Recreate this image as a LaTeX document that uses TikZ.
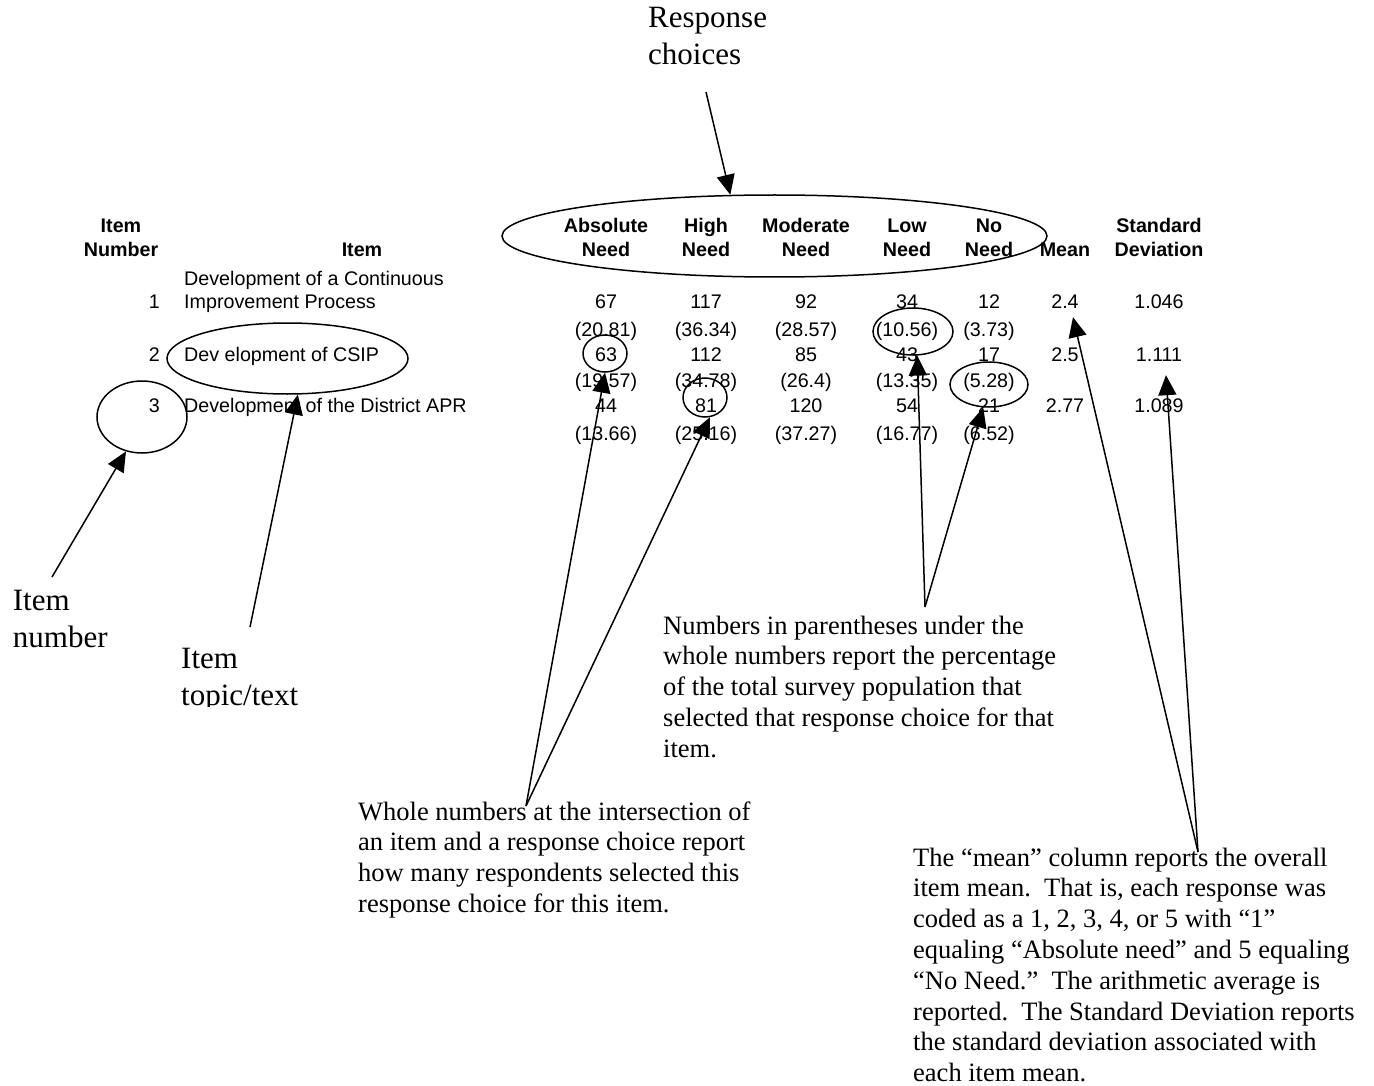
\documentclass[tikz,border=0pt]{standalone}
\usepackage{fontspec}
\setmainfont{Liberation Serif}
\newfontfamily\tabfont{Liberation Sans}
\usetikzlibrary{shapes.geometric,arrows.meta,calc}
\begin{document}
\begin{tikzpicture}[x=1pt,y=-1pt,
  cell/.style={anchor=base, inner sep=0pt, font=\tabfont\fontsize{19.7}{24}\selectfont},
  hdr/.style={anchor=base, inner sep=0pt, font=\tabfont\bfseries\fontsize{19.7}{24}\selectfont},
  ann/.style={anchor=base west, inner sep=0pt, font=\fontsize{26.5}{30.8}\selectfont},
  bigann/.style={anchor=base west, inner sep=0pt, font=\fontsize{31}{37}\selectfont},
  ring/.style={draw, ellipse, line width=1.5pt, inner sep=0pt},
  pointer/.style={line width=1.5pt, -{Triangle[length=20pt,width=18pt]}},
]
\fill[white] (0,0) rectangle (1374,1086);
\useasboundingbox (0,0) rectangle (1374,1086);

% ---------- headers ----------
\node[hdr] (hnum)  at (121,232.7) {\begin{tabular}[t]{@{}c@{}}Item\\Number\end{tabular}};
\node[hdr] (hitem) at (362,256.7) {Item};
\node[hdr] (habs)  at (606,232.7) {\begin{tabular}[t]{@{}c@{}}Absolute\\Need\end{tabular}};
\node[hdr] (hhigh) at (706,232.7) {\begin{tabular}[t]{@{}c@{}}High\\Need\end{tabular}};
\node[hdr] (hmod)  at (806,232.7) {\begin{tabular}[t]{@{}c@{}}Moderate\\Need\end{tabular}};
\node[hdr] (hlow)  at (907,232.7) {\begin{tabular}[t]{@{}c@{}}Low\\Need\end{tabular}};
\node[hdr] (hno)   at (989,232.7) {\begin{tabular}[t]{@{}c@{}}No\\Need\end{tabular}};
\node[hdr] (hmean) at (1065,256.7) {Mean};
\node[hdr] (hsd)   at (1159,232.7) {\begin{tabular}[t]{@{}c@{}}Standard\\Deviation\end{tabular}};

% ---------- row 1 ----------
\node[cell, anchor=base east] (n1) at (160,308.3) {1};
\node[cell, anchor=base west, font=\tabfont\fontsize{19.7}{23.3}\selectfont] (it1) at (184,285)
  {\begin{tabular}[t]{@{}l@{}}Development of a Continuous\\Improvement Process\end{tabular}};
\node[cell] (a1) at (606,308.3) {67};
\node[cell] (b1) at (706,308.3) {117};
\node[cell] (c1) at (806,308.3) {92};
\node[cell] (d1) at (907,308.3) {34};
\node[cell] (e1) at (989,308.3) {12};
\node[cell] (m1) at (1065,308.3) {2.4};
\node[cell] (s1) at (1159,308.3) {1.046};
\node[cell] (pa1) at (606,336.7) {(20.81)};
\node[cell] (pb1) at (706,336.7) {(36.34)};
\node[cell] (pc1) at (806,336.7) {(28.57)};
\node[cell] (pd1) at (907,336.7) {(10.56)};
\node[cell] (pe1) at (989,336.7) {(3.73)};

% ---------- row 2 ----------
\node[cell, anchor=base east] (n2) at (160,361.7) {2};
\node[cell, anchor=base west] (it2) at (184,361.7) {Dev elopment of CSIP};
\node[cell] (a2) at (606,361.7) {63};
\node[cell] (b2) at (706,361.7) {112};
\node[cell] (c2) at (806,361.7) {85};
\node[cell] (d2) at (907,361.7) {43};
\node[cell] (e2) at (989,361.7) {17};
\node[cell] (m2) at (1065,361.7) {2.5};
\node[cell] (s2) at (1159,361.7) {1.111};
\node[cell] (pa2) at (606,387.3) {(19.57)};
\node[cell] (pb2) at (706,387.3) {(34.78)};
\node[cell] (pc2) at (806,387.3) {(26.4)};
\node[cell] (pd2) at (907,387.3) {(13.35)};
\node[cell] (pe2) at (989,387.3) {(5.28)};

% ---------- row 3 ----------
\node[cell, anchor=base east] (n3) at (160,412.7) {3};
\node[cell, anchor=base west] (it3) at (184,412.7) {Development of the District APR};
\node[cell] (a3) at (606,412.7) {44};
\node[cell] (b3) at (706,412.7) {81};
\node[cell] (c3) at (806,412.7) {120};
\node[cell] (d3) at (907,412.7) {54};
\node[cell] (e3) at (989,412.7) {21};
\node[cell] (m3) at (1065,412.7) {2.77};
\node[cell] (s3) at (1159,412.7) {1.089};
\node[cell] (pa3) at (606,440) {(13.66)};
\node[cell] (pb3) at (706,440) {(25.16)};
\node[cell] (pc3) at (806,440) {(37.27)};
\node[cell] (pd3) at (907,440) {(16.77)};
\node[cell] (pe3) at (989,440) {(6.52)};

% ---------- rings ----------
\node[ring, minimum width=545pt, minimum height=82pt] (bigell) at (774.5,236) {};
\node[ring, minimum width=241pt, minimum height=71pt] (csip) at (287.5,358.5) {};
\node[ring, minimum width=90pt, minimum height=72pt] (inum) at (142,417) {};
\node[ring, minimum width=44pt, minimum height=37pt] (c63) at (605,353.5) {};
\node[ring, minimum width=44pt, minimum height=39pt] (c81) at (705,397.5) {};
\node[ring, minimum width=80pt, minimum height=47pt] (c1056) at (913,331.5) {};
\node[ring, minimum width=78pt, minimum height=45pt] (c528) at (989,384.5) {};

% ---------- annotations ----------
\node[bigann] (rc) at (648,27.3) {\begin{tabular}[t]{@{}l@{}}Response\\choices\end{tabular}};
\node[bigann] (inumtxt) at (12.7,610) {\begin{tabular}[t]{@{}l@{}}Item\\number\end{tabular}};
\begin{scope}
  \clip (170,630) rectangle (330,706.5);
  \node[bigann] (itopic) at (181,668) {\begin{tabular}[t]{@{}l@{}}Item\\topic/text\end{tabular}};
\end{scope}
\node[ann] (paren) at (663,634) {\begin{tabular}[t]{@{}l@{}}Numbers in parentheses under the\\whole numbers report the percentage\\of the total survey population that\\selected that response choice for that\\item.\end{tabular}};
\node[ann] (whole) at (358,820) {\begin{tabular}[t]{@{}l@{}}Whole numbers at the intersection of\\an item and a response choice report\\how many respondents selected this\\response choice for this item.\end{tabular}};
\node[ann] (meantxt) at (913,866) {\begin{tabular}[t]{@{}l@{}}The “mean” column reports the overall\\item mean.\ \ That is, each response was\\coded as a 1, 2, 3, 4, or 5 with “1”\\equaling “Absolute need” and 5 equaling\\“No Need.”\ \ The arithmetic average is\\reported.\ \ The Standard Deviation reports\\the standard deviation associated with\\each item mean.\end{tabular}};

% ---------- connector tails ----------
\coordinate (tRC) at (706,92);
\coordinate (tIN) at (52,577);
\coordinate (tIT) at (250,627);
\coordinate (tWN) at (526,806);
\coordinate (tPN) at (925,607);
\coordinate (tMN) at (1198,852);

% ---------- connectors ----------
\draw[pointer] (tRC) -- (bigell.137);
\draw[pointer] (tIN) -- (inum.-115);
\draw[pointer] (tIT) -- (csip.-74);
\draw[pointer] (tWN) -- (c63.south);
\draw[pointer] (tWN) -- (c81.-76);
\draw[pointer] (tPN) -- (c1056.-80);
\draw[pointer] (tPN) -- (c528.-104);
\draw[pointer] (tMN) -- ($(m1.south)+(8,8.7)$);
\draw[pointer] (tMN) -- ($(s2.south)+(7,13.3)$);
\end{tikzpicture}
\end{document}
